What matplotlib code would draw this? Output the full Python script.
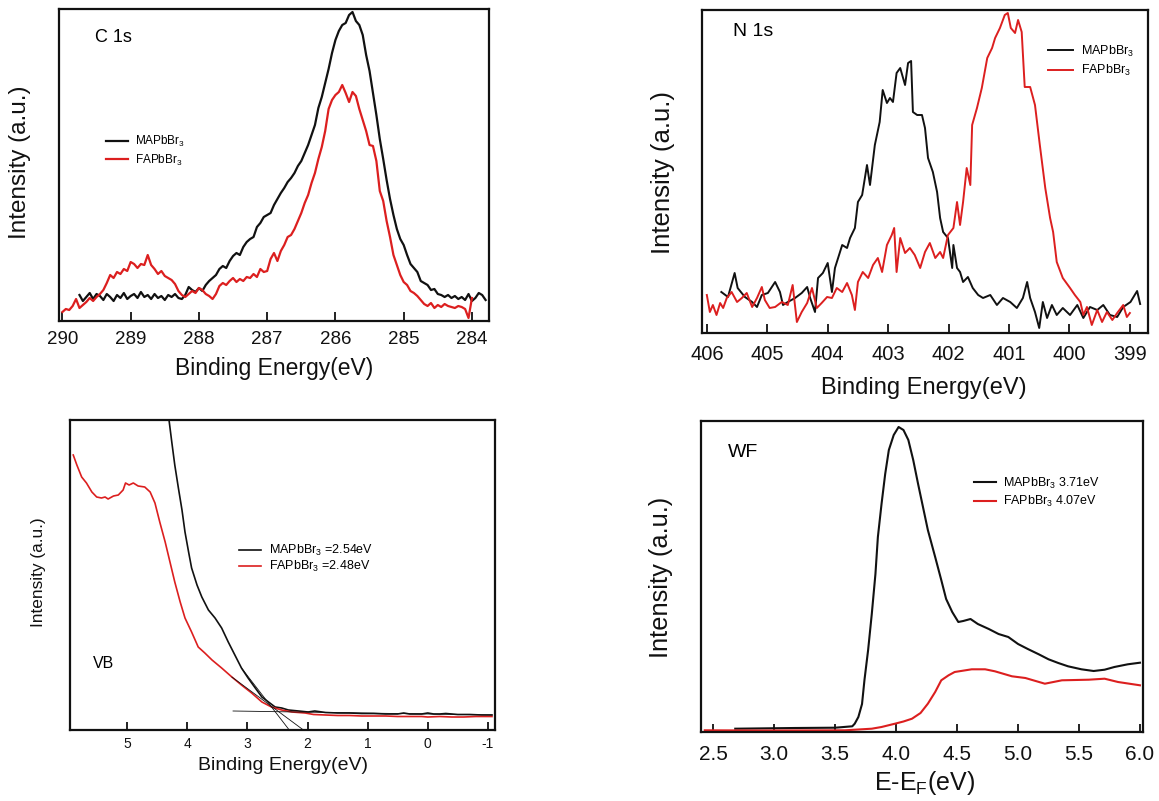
import numpy as np
import matplotlib.pyplot as plt

plt.rcParams['font.family'] = ['Liberation Sans', 'DejaVu Sans']
plt.rcParams['mathtext.fontset'] = 'custom'
plt.rcParams['mathtext.rm'] = 'Liberation Sans'
plt.rcParams['mathtext.it'] = 'Liberation Sans:italic'

W, H = 1159, 801
BLACK = '#111111'
RED = '#dc1f1f'
MA = 'MAPbBr$_3$'
FA = 'FAPbBr$_3$'

# ---- C 1s ----
c1s_be_ma = np.linspace(289.75, 283.80, 120)
c1s_ma = [26, 20, 24, 28, 22, 27, 25, 21, 27, 24, 20, 26, 23, 28, 22, 25, 27, 23, 29, 24,
          26, 22, 27, 23, 25, 21, 26, 24, 27, 23, 22, 26,
          34, 31, 29, 33, 30, 36, 40, 43, 46, 52, 55, 53, 60, 65, 68, 66, 74, 79, 82, 84,
          94, 98, 104, 106,
          108, 116, 122, 128, 133, 139, 143, 148, 155, 160, 168, 176, 186, 196, 213, 224,
          238, 252, 268, 281, 290, 296, 298, 306,
          309, 300, 296, 286, 266, 250, 228, 206, 182, 162, 141, 122, 106, 92, 82, 76,
          66, 57, 53, 49, 40, 38, 36, 31,
          32, 27, 26, 24, 26, 23, 25, 22, 24, 21, 27, 20, 23, 28, 26, 21]
c1s_be_fa = np.linspace(290.0, 284.0, 121)
c1s_fa = [9, 12, 11, 15, 22, 13, 16, 19, 23, 20, 24, 27, 31, 38, 46, 43, 49, 47, 52, 50,
          59, 57, 53, 57, 56, 66, 56, 52, 47, 50, 45, 43,
          41, 37, 30, 26, 24, 27, 30, 28, 33, 31, 27, 25, 22, 27, 35, 38, 36, 40, 43, 39,
          42, 40, 44, 43, 47, 44, 52, 49, 50, 62, 68, 60,
          70, 76, 84, 86, 92, 100, 108, 118, 126, 138, 148, 162, 174, 190, 212, 221,
          226, 229, 236, 228, 219, 229, 225, 212, 201, 190, 176, 175, 160, 130, 120, 100,
          84, 66, 56, 46, 39, 36, 30, 28, 25, 21, 17, 15, 18, 13, 16, 14, 17, 15, 14, 13,
          15, 14, 12, 3, 23]
c1s_ticks = [290, 289, 288, 287, 286, 285, 284]

# ---- N 1s ----
n1s_be_ma = [405.76, 405.65, 405.54, 405.49, 405.37, 405.25, 405.17, 405.09, 404.99,
             404.87, 404.79, 404.74, 404.66, 404.54, 404.43, 404.34, 404.29, 404.21, 404.16,
             404.08, 404.00, 403.93, 403.88, 403.76, 403.68, 403.63, 403.55, 403.50, 403.43,
             403.35, 403.30, 403.22, 403.14, 403.09, 403.02, 402.97, 402.92, 402.86, 402.80,
             402.72, 402.67, 402.62, 402.59, 402.52, 402.44, 402.39, 402.34, 402.26, 402.19,
             402.14, 402.09, 402.01, 401.94, 401.92, 401.86, 401.81, 401.76, 401.68, 401.60,
             401.51, 401.43, 401.31, 401.20, 401.10, 400.98, 400.87, 400.77, 400.70, 400.65,
             400.57, 400.50, 400.44, 400.37, 400.29, 400.21, 400.11, 399.99, 399.87, 399.77,
             399.66, 399.54, 399.44, 399.33, 399.21, 399.11, 398.99, 398.88, 398.83]
n1s_ma = [41, 36, 60, 45, 36, 31, 26, 38, 40,
          51, 41, 28, 31, 35, 40, 46, 35, 21, 55,
          60, 70, 41, 65, 88, 85, 95, 105, 131, 138,
          168, 148, 188, 211, 243, 230, 235, 231, 260, 265,
          248, 270, 272, 221, 218, 218, 205, 175, 161, 141,
          115, 101, 95, 65, 88, 65, 61, 51, 56, 45,
          38, 35, 38, 28, 35, 31, 25, 35, 51, 35,
          21, 5, 31, 15, 28, 18, 25, 18, 28, 15,
          26, 23, 28, 18, 16, 26, 31, 42, 29]
n1s_be_fa = [406.00, 405.95, 405.90, 405.84, 405.78, 405.73, 405.67, 405.59, 405.50, 405.42,
             405.34, 405.25, 405.17, 405.09, 405.04, 404.96, 404.87, 404.76, 404.66, 404.58,
             404.51, 404.43, 404.34, 404.26, 404.18, 404.10, 404.01, 403.93, 403.85, 403.76,
             403.68, 403.60, 403.55, 403.50, 403.42, 403.33, 403.25, 403.17, 403.10, 403.02,
             402.94, 402.90, 402.86, 402.80, 402.72, 402.64, 402.56, 402.47, 402.39, 402.31,
             402.22, 402.14, 402.09, 402.01, 401.92, 401.86, 401.81, 401.76, 401.70, 401.64,
             401.61, 401.53, 401.45, 401.36, 401.28, 401.23, 401.15, 401.07, 401.02, 400.97,
             400.90, 400.85, 400.79, 400.74, 400.65, 400.57, 400.49, 400.40, 400.32, 400.27,
             400.21, 400.11, 399.99, 399.91, 399.82, 399.77, 399.71, 399.63, 399.54, 399.46,
             399.38, 399.29, 399.21, 399.11, 399.05, 399.00]
n1s_fa = [38, 21, 28, 18, 30, 25, 35, 41, 31, 35,
          40, 26, 35, 46, 33, 25, 26, 31, 28, 48,
          11, 21, 30, 45, 25, 30, 36, 35, 45, 41,
          50, 38, 23, 51, 61, 55, 68, 75, 61, 88,
          98, 105, 61, 95, 80, 85, 78, 65, 81, 90,
          75, 81, 75, 98, 105, 131, 108, 131, 165, 148,
          208, 225, 245, 275, 285, 295, 305, 318, 320, 305,
          300, 313, 301, 246, 246, 228, 188, 145, 115, 101,
          71, 55, 45, 38, 31, 18, 26, 8, 23, 11,
          21, 13, 20, 28, 16, 20]
n1s_ticks = [406, 405, 404, 403, 402, 401, 400, 399]

# ---- valence band ----
vb_be_ma = [4.31, 4.26, 4.21, 4.15, 4.09, 4.04, 3.98, 3.93, 3.84, 3.76, 3.65, 3.54, 3.43,
            3.32, 3.21, 3.10, 2.99, 2.87, 2.76, 2.65, 2.54, 2.43, 2.32, 2.15, 1.99, 1.88,
            1.70, 1.50, 1.30, 1.10, 0.90, 0.70, 0.50, 0.40, 0.30, 0.10, 0.00, -0.10, -0.20,
            -0.30, -0.50, -0.70, -0.90, -1.07]
vb_ma = [312, 288, 265, 242, 220, 198, 178, 162, 145, 133, 120, 112, 102,
         88, 75, 62, 52, 42, 33, 28, 23, 22, 20, 19, 18, 19,
         17.5, 17, 17, 16.5, 16.5, 16, 16, 17, 16, 16, 17, 16, 16,
         16.5, 15.5, 15.5, 15, 15]
vb_be_fa = [5.90, 5.84, 5.76, 5.68, 5.59, 5.51, 5.43, 5.37, 5.32, 5.23, 5.15, 5.07, 5.03,
            4.97, 4.90, 4.82, 4.71, 4.62, 4.54, 4.46, 4.37, 4.29, 4.21, 4.12, 4.04, 3.93,
            3.82, 3.71, 3.59, 3.43, 3.26, 3.10, 2.93, 2.76, 2.60, 2.43, 2.26, 2.04, 1.90,
            1.70, 1.50, 1.30, 1.10, 0.90, 0.70, 0.50, 0.30, 0.10, 0.00, -0.20, -0.40,
            -0.60, -0.80, -1.07]
vb_fa = [275, 265, 253, 247, 238, 233, 232, 233, 231, 234, 235, 240, 247,
         245, 247, 244, 243, 238, 227, 208, 188, 168, 148, 128, 112, 98,
         83, 77, 70, 62, 53, 45, 37, 28, 23, 20, 18, 17, 15.5,
         15, 14.5, 14.5, 14, 14, 14, 13.5, 13.5, 13.5, 13, 13.5, 13,
         13, 13.5, 13.5]
vb_ticks = [5, 4, 3, 2, 1, 0, -1]
vb_onset = [2.54, 2.48]          # MAPbBr3, FAPbBr3 (eV)
vb_base_be = [3.24, -1.07]       # background line
vb_base = [19, 15]
vb_anchor_be = [3.10, 3.26]      # point on each edge used for the tangent
vb_anchor = [62, 53]

# ---- work function ----
wf_e_ma = [2.68, 3.17, 3.50, 3.64, 3.66, 3.69, 3.72, 3.74, 3.77, 3.80,
           3.83, 3.85, 3.88, 3.91, 3.94, 3.98, 4.02, 4.06, 4.10, 4.14,
           4.18, 4.22, 4.26, 4.32, 4.37, 4.41, 4.46, 4.51, 4.55, 4.61,
           4.67, 4.76, 4.84, 4.92, 5.00, 5.08, 5.17, 5.25, 5.33, 5.41,
           5.52, 5.62, 5.71, 5.79, 5.90, 6.00]
wf_ma = [3.3, 4.0, 4.3, 5.7, 8.3, 15, 28, 52, 82, 118,
         158, 195, 228, 258, 282, 297, 305, 302, 292, 272,
         248, 225, 202, 175, 152, 133, 120, 110, 111, 113,
         108, 103, 98, 95, 88, 83, 77.7, 72.7, 69, 65.7,
         62.7, 61, 62.3, 65, 67.7, 69.3]
wf_e_fa = [2.43, 2.90, 3.58, 3.80, 3.88, 3.99, 4.06, 4.13, 4.20, 4.26, 4.32, 4.37, 4.43,
           4.48, 4.62, 4.73, 4.81, 4.95, 5.06, 5.22, 5.36, 5.58, 5.71, 5.82, 6.00]
wf_fa = [1.7, 1.5, 1.7, 3.3, 5, 8.3, 10.5, 13.3, 19, 28.3, 40, 51.7, 56.7,
         60, 62.7, 62.7, 60.7, 55.7, 54, 48.3, 51.7, 52.3, 53.3, 50, 46.7]
wf_ticks = [2.5, 3.0, 3.5, 4.0, 4.5, 5.0, 5.5, 6.0]
wf_values = ['3.71', '4.07']


def panel(l, t, r, b, xlim, ylim, ticks, fmt, tsize, tlen, pad):
    ax = fig.add_axes([l / W, 1 - b / H, (r - l) / W, (b - t) / H])
    ax.set_xlim(*xlim)
    ax.set_ylim(*ylim)
    ax.set_yticks([])
    ax.set_xticks(ticks)
    ax.set_xticklabels([fmt.format(v) for v in ticks])
    ax.tick_params(axis='x', direction='in', length=tlen, width=1.3,
                   labelsize=tsize, pad=pad, colors='#111111')
    for s in ax.spines.values():
        s.set_linewidth(1.6)
        s.set_color('#111111')
    return ax


def labels(ax, xl, xpos, xsize, yl, ypos, ysize):
    ax.set_xlabel(xl, fontsize=xsize, color='#111111')
    ax.xaxis.set_label_coords(*xpos)
    ax.xaxis.label.set_va('center')
    ax.set_ylabel(yl, fontsize=ysize, color='#111111')
    ax.yaxis.set_label_coords(*ypos)
    ax.yaxis.label.set_va('center')


def legend(ax, pos, size, hlen, spacing):
    ax.legend(loc='center left', bbox_to_anchor=pos, frameon=False, fontsize=size,
              handlelength=hlen, handletextpad=0.6, labelspacing=spacing,
              borderpad=0, borderaxespad=0)


fig = plt.figure(figsize=(W / 100, H / 100), dpi=100)

# C 1s
ax1 = panel(59, 9, 489, 321, (290.05, 283.75), (0, 312), c1s_ticks, '{:d}', 13.5, 6.5, 7)
ax1.plot(c1s_be_ma, c1s_ma, color=BLACK, lw=1.6, label=MA)
ax1.plot(c1s_be_fa, c1s_fa, color=RED, lw=1.6, label=FA)
ax1.text(0.084, 0.91, 'C 1s', transform=ax1.transAxes, fontsize=13, va='center')
labels(ax1, 'Binding Energy(eV)', (0.5, -0.151), 16.5, 'Intensity (a.u.)', (-0.091, 0.51), 17.5)
legend(ax1, (0.109, 0.545), 8.5, 1.85, 0.25)

# N 1s
ax2 = panel(702, 10, 1148, 333, (406.08, 398.70), (0, 323), n1s_ticks, '{:d}', 14.5, 6.5, 9)
ax2.plot(n1s_be_ma, n1s_ma, color=BLACK, lw=1.4, label=MA)
ax2.plot(n1s_be_fa, n1s_fa, color=RED, lw=1.4, label=FA)
ax2.text(0.07, 0.932, 'N 1s', transform=ax2.transAxes, fontsize=14, va='center')
labels(ax2, 'Binding Energy(eV)', (0.497, -0.17), 17, 'Intensity (a.u.)', (-0.087, 0.498), 18.5)
legend(ax2, (0.776, 0.842), 9, 2.0, 0.35)

# valence band
ax3 = panel(70, 420, 495, 730, (5.954, -1.12), (0, 310), vb_ticks, '{:d}', 10, 6, 5)
ax3.plot(vb_be_ma, vb_ma, color=BLACK, lw=1.2, label=MA + ' =%seV' % vb_onset[0])
ax3.plot(vb_be_fa, vb_fa, color=RED, lw=1.2, label=FA + ' =%seV' % vb_onset[1])
ax3.plot(vb_base_be, vb_base, color=BLACK, lw=0.6)
# linear extrapolation of each leading edge through its onset on the background
for onset, ab, ah in zip(vb_onset, vb_anchor_be, vb_anchor):
    base = np.interp(onset, vb_base_be[::-1], vb_base[::-1])
    slope = (ah - base) / (ab - onset)
    x0 = onset - base / slope
    ax3.plot([x0, ab], [0, ah], color=BLACK, lw=0.6)
ax3.text(0.054, 0.216, 'VB', transform=ax3.transAxes, fontsize=11.5, va='center')
labels(ax3, 'Binding Energy(eV)', (0.501, -0.116), 14, 'Intensity (a.u.)', (-0.075, 0.51), 12.4)
legend(ax3, (0.398, 0.553), 9, 1.75, 0.05)

# work function
ax4 = panel(701, 421, 1143, 732, (2.399, 6.025), (0, 311), wf_ticks, '{:.1f}', 15, 5.5, 9)
ax4.plot(wf_e_ma, wf_ma, color=BLACK, lw=1.5, label=MA + ' %seV' % wf_values[0])
ax4.plot(wf_e_fa, wf_fa, color=RED, lw=1.5, label=FA + ' %seV' % wf_values[1])
ax4.text(0.061, 0.9, 'WF', transform=ax4.transAxes, fontsize=14, va='center')
labels(ax4, 'E-E$_\\mathrm{F}$(eV)', (0.505, -0.165), 18, 'Intensity (a.u.)', (-0.091, 0.498), 18.3)
legend(ax4, (0.617, 0.77), 9, 1.75, 0.25)

fig.savefig('out.png', dpi=100)
